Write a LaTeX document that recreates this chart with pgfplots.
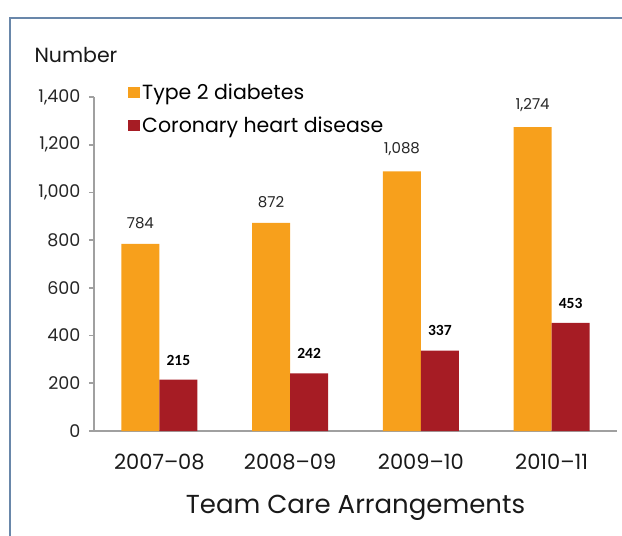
\documentclass[border=0pt]{standalone}
\usepackage{pgfplots}
\pgfplotsset{compat=1.18}
\usepackage{fontspec}
\setmainfont{Poppins}
\newfontfamily\carlito{Carlito}
\definecolor{t2orange}{RGB}{247,160,28}
\definecolor{chdred}{RGB}{166,28,36}
\definecolor{framebl}{RGB}{105,135,170}
\definecolor{axgrey}{RGB}{160,160,160}

\begin{document}
\begin{tikzpicture}
\useasboundingbox (-94bp,-105bp) rectangle (528bp,431bp);
\draw[framebl, line width=2bp] (-84bp,-120bp) -- (-84bp,413bp) -- (540bp,413bp);
\begin{axis}[
    at={(0,0)}, anchor=south west,
    scale only axis, width=523bp, height=334bp,
    ybar=0pt, bar width=38bp,
    xmin=-0.5, xmax=3.5, ymin=0, ymax=1400,
    xtick={0,1,2,3},
    xticklabels={2007--08,2008--09,2009--10,2010--11},
    ytick={0,200,...,1400},
    axis x line*=bottom, axis y line*=left,
    axis line style={axgrey, line width=1.6bp, -},
    x tick style={draw=none},
    y tick style={axgrey, line width=1.6bp},
    tick align=outside, major tick length=5bp,
    /pgf/number format/assume math mode=true,
    /pgf/number format/1000 sep={,},
    yticklabel style={font=\fontsize{17.5bp}{20bp}\selectfont, text=black!85, xshift=-5bp},
    xticklabel style={font=\fontsize{21bp}{24bp}\selectfont, text=black!90, yshift=-15bp},
    legend style={at={(0.065,1.045)}, anchor=north west, draw=none, fill=none,
        font=\fontsize{20.5bp}{23bp}\selectfont, row sep=12bp, inner sep=0pt},
    legend cell align=left,
    nodes near coords,
]
\addplot[fill=t2orange, draw=none,
    legend image code/.code={\fill[t2orange] (0bp,-5.5bp) rectangle (12bp,5.5bp);},
    nodes near coords style={font=\fontsize{15bp}{18bp}\selectfont, text=black!85, yshift=12bp}]
    coordinates {(0,784) (1,872) (2,1088) (3,1274)};
\addplot[fill=chdred, draw=none,
    legend image code/.code={\fill[chdred] (0bp,-5.5bp) rectangle (12bp,5.5bp);},
    nodes near coords style={font=\carlito\bfseries\fontsize{15.5bp}{18bp}\selectfont, text=black, yshift=11bp}]
    coordinates {(0,215) (1,242) (2,337) (3,453)};
\legend{Type 2 diabetes, Coronary heart disease}
\end{axis}
\node[anchor=west, font=\fontsize{20.5bp}{23bp}\selectfont, text=black!90] at (-63bp,376bp) {Number};
\node[font=\fontsize{26bp}{30bp}\selectfont, text=black!90] at (261.5bp,-77bp) {Team Care Arrangements};
\end{tikzpicture}
\end{document}
